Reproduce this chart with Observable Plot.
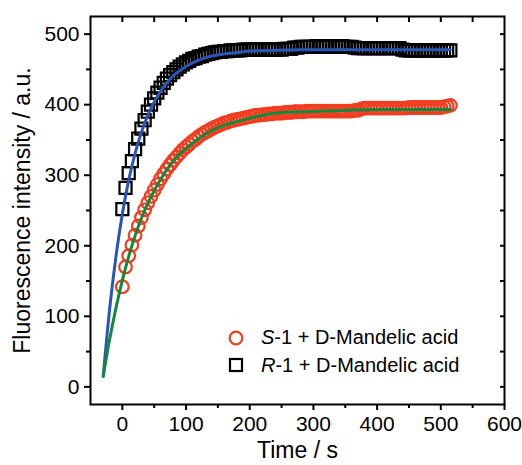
<!DOCTYPE html>
<html><head><meta charset="utf-8">
<script src="https://cdn.jsdelivr.net/npm/d3@7"></script>
<script src="https://cdn.jsdelivr.net/npm/@observablehq/plot@0.6"></script>
<style>
body{margin:0;background:#fff;font-family:"Liberation Sans",Arial,sans-serif;}
#wrap{position:relative;width:522px;height:465px;}
#legend{position:absolute;left:228px;top:324px;font-size:20px;color:#000;line-height:27.5px;}
#legend div{display:flex;align-items:center;white-space:nowrap;}
#legend svg{margin-right:17px;}
</style></head><body>
<div id="wrap"><div id="legend"></div></div>
<script>
// Time (s) of each measured point
const time = [0,5,10,15,20,25,30,35,40,45,50,55,60,65,70,75,80,85,90,95,100,105,110,115,120,125,130,135,140,145,150,155,160,165,170,175,180,185,190,195,200,205,210,215,220,225,230,235,240,245,250,255,260,265,270,275,280,285,290,295,300,305,310,315,320,325,330,335,340,345,350,355,360,365,370,375,380,385,390,395,400,405,410,415,420,425,430,435,440,445,450,455,460,465,470,475,480,485,490,495,500,505,510,515];
// S-1 + D-Mandelic acid (red circles)
const s1 = [142,170,186,201,215,228,240,251,261,270,279,287,295,302,309,315,321,326,331,336,340,344,348,351,355,358,361,363,366,368,370,372,374,375,377,378,379,380,381,382,383,384,385,385,386,386,387,387,388,388,388,389,389,389,390,390,390,390,391,391,391,391,391,391,391,391,391,391,391,391,391,391,391,392,392,394,395,395,395,395,395,395,395,395,395,395,395,395,395,395,396,396,396,396,396,396,396,396,396,396,396,397,398,399];
// R-1 + D-Mandelic acid (black squares)
const r1 = [252,282,303,320,337,352,366,378,390,400,409,417,424,431,437,442,446,450,454,457,460,462,465,466,468,469,471,472,473,474,475,475,476,476,477,477,477,477,478,478,478,478,478,478,478,478,478,478,478,478,478,479,479,479,481,481,482,482,482,482,482,483,482,483,482,482,483,482,482,483,482,482,482,481,480,480,480,480,480,480,480,480,480,480,480,480,480,480,478,477,477,477,477,477,477,477,477,477,477,477,477,477,477,477];
// Fitted curves
const fitTime = [-30,-20,-10,0,10,20,30,40,50,60,70,80,90,100,120,140,160,180,200,240,280,320,400,515];
const fitR1 = [15,110,185,245,293,331,361,385,404,419,431,441,448,454,463,469,472,474,476,477,478,478,478,478];
const fitS1 = [15,67,112,151,185,214,239,260,278,294,308,320,330,338,352,363,371,376,381,388,390,391,393,393];
const xTicks = [0,100,200,300,400,500,600];
const xMinor = [50,150,250,350,450,550];
const xAll = [0,50,100,150,200,250,300,350,400,450,500,550];
const yTicks = [0,100,200,300,400,500];
const yMinor = [50,150,250,350,450];
const yAll = [0,50,100,150,200,250,300,350,400,450,500];
const seriesNames = ["S-1 + D-Mandelic acid","R-1 + D-Mandelic acid"];

const red = "#f23c1f", blue = "#2a55b8", green = "#13883b";
const pts = time.map((t,i)=>({t, s:s1[i], r:r1[i]}));
const fit = fitTime.map((t,i)=>({t, r:fitR1[i], s:fitS1[i]}));

const chart = Plot.plot({
  width: 522, height: 465,
  marginLeft: 90, marginRight: 18, marginTop: 16, marginBottom: 61,
  style: {fontFamily: "Liberation Sans, Arial, sans-serif", fontSize: "21px", color: "#000", background: "#fff"},
  x: {domain: [-50, 600]},
  y: {domain: [-25, 525]},
  marks: [
    Plot.frame({stroke: "#000", strokeWidth: 2}),
    Plot.axisX(xTicks, {anchor: "bottom", tickSize: 6, tickPadding: 6, strokeWidth: 2, fontSize: 21, label: "Time / s", labelAnchor: "center", labelArrow: "none", labelOffset: 53}),
    Plot.axisX(xMinor, {anchor: "bottom", tickSize: 4, strokeWidth: 2, text: null, label: null}),
    Plot.axisX(xAll, {anchor: "top", tickSize: -5, strokeWidth: 2, text: null, label: null}),
    Plot.axisY(yTicks, {anchor: "left", tickSize: 6, tickPadding: 5, strokeWidth: 2, fontSize: 21, label: "Fluorescence intensity / a.u.", labelAnchor: "center", labelArrow: "none", labelOffset: 77}),
    Plot.axisY(yMinor, {anchor: "left", tickSize: 4, strokeWidth: 2, text: null, label: null}),
    Plot.axisY(yAll, {anchor: "right", tickSize: -5, strokeWidth: 2, text: null, label: null}),
    Plot.dot(pts, {x: "t", y: "s", r: 6.3, stroke: red, strokeWidth: 2.2, fill: "none"}),
    Plot.dot(pts, {x: "t", y: "r", r: 6.8, symbol: "square", stroke: "#000", strokeWidth: 2.2, fill: "none"}),
    Plot.line(fit, {x: "t", y: "r", stroke: blue, strokeWidth: 3, curve: "monotone-x"}),
    Plot.line(fit, {x: "t", y: "s", stroke: green, strokeWidth: 3, curve: "monotone-x"})
  ]
});
const wrap = document.getElementById("wrap");
wrap.insertBefore(chart, wrap.firstChild);
chart.querySelectorAll('[aria-label="y-axis label"] text, [aria-label="x-axis label"] text').forEach(t=>t.setAttribute("font-size","23px"));

const leg = document.getElementById("legend");
const sym = [
  `<svg width="16" height="16"><circle cx="8" cy="8" r="6.3" fill="none" stroke="${red}" stroke-width="2.2"/></svg>`,
  `<svg width="16" height="16"><rect x="2" y="2" width="12" height="12" fill="none" stroke="#000" stroke-width="2.2"/></svg>`
];
seriesNames.forEach((n,i)=>{
  const d = document.createElement("div");
  const [head, ...rest] = n.split("-");
  d.innerHTML = sym[i] + `<span><i>${head}</i>-${rest.join("-")}</span>`;
  leg.appendChild(d);
});
</script>
</body></html>
